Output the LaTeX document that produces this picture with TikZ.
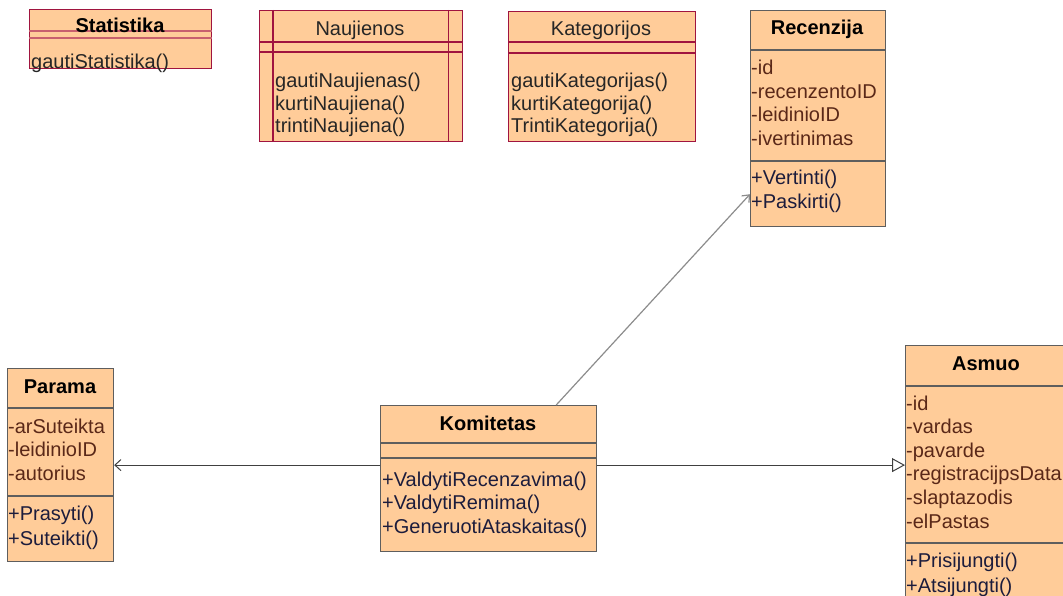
\documentclass[tikz,border=0pt]{standalone}
\usepackage{fontspec}
\setmainfont{Liberation Sans}
\usetikzlibrary{arrows.meta, calc}

\definecolor{umlpeach}{HTML}{FFCC99}
\definecolor{umlred}{HTML}{A0143F}
\definecolor{umlredlt}{HTML}{C8606E}
\definecolor{umlgray}{HTML}{5E5E5E}
\definecolor{attrcol}{HTML}{5A2818}
\definecolor{opcol}{HTML}{1C1C3C}

\begin{document}
\begin{tikzpicture}[x=1pt, y=-1pt,
		font=\fontsize{20}{24}\selectfont,
		redbox/.style={draw=umlred, fill=umlpeach, line width=1.2pt, anchor=north west, inner sep=0pt},
		graybox/.style={draw=umlgray, fill=umlpeach, line width=1.2pt, anchor=north west, inner sep=0pt},
		redsep/.style={draw=umlred, line width=1.2pt},
		graysep/.style={draw=umlgray, line width=1.2pt},
		title/.style={anchor=base, inner sep=0pt, font=\fontsize{20}{24}\selectfont\bfseries},
		plaintitle/.style={anchor=base, inner sep=0pt, text=black!85},
		item/.style={anchor=base west, inner sep=0pt, text=black!85},
		attr/.style={anchor=base west, inner sep=0pt, text=attrcol},
		oper/.style={anchor=base west, inner sep=0pt, text=opcol},
		assoc/.style={draw=black!75, line width=1pt, -{Straight Barb[length=6pt, width=11pt]}},
		depend/.style={draw=black!45, line width=1.2pt, -{Straight Barb[length=6pt, width=10pt]}},
		general/.style={draw=black!75, line width=1pt, -{Triangle[open, length=13pt, width=14pt, fill=white]}}]
	
	\useasboundingbox (0,0) rectangle (1063,596);
	
	% Statistika
	\node[redbox, minimum width=182pt, minimum height=59pt] (stat) at (29,9) {};
	\draw[draw=umlredlt, line width=1.2pt] ($(stat.north west)+(0,22)$) -- ($(stat.north east)+(0,22)$);
	\draw[draw=umlredlt, line width=1.2pt] ($(stat.north west)+(0,29)$) -- ($(stat.north east)+(0,29)$);
	\node[title] (stat-t) at (120,33) {Statistika};
	\node[item] (stat-o1) at (31,69) {gautiStatistika()};
	
	% Naujienos
	\node[redbox, minimum width=203pt, minimum height=131pt] (nau) at (259,10) {};
	\draw[redsep] ($(nau.north west)+(0,32)$) -- ($(nau.north east)+(0,32)$);
	\draw[redsep] ($(nau.north west)+(0,42)$) -- ($(nau.north east)+(0,42)$);
	\draw[redsep] ($(nau.north west)+(14,0)$) -- ($(nau.south west)+(14,0)$);
	\draw[redsep] ($(nau.north east)+(-15,0)$) -- ($(nau.south east)+(-15,0)$);
	\node[plaintitle] (nau-t) at (360,36) {Naujienos};
	\foreach \txt [count=\i] in {gautiNaujienas(), kurtiNaujiena(), trintiNaujiena()}
		\node[item] (nau-o\i) at (275, {88+(\i-1)*22.5}) {\txt};
	
	% Kategorijos
	\node[redbox, minimum width=187pt, minimum height=130pt] (kat) at (508,11) {};
	\draw[redsep] ($(kat.north west)+(0,31)$) -- ($(kat.north east)+(0,31)$);
	\draw[redsep] ($(kat.north west)+(0,42)$) -- ($(kat.north east)+(0,42)$);
	\node[plaintitle] (kat-t) at (601,36) {Kategorijos};
	\foreach \txt [count=\i] in {gautiKategorijas(), kurtiKategorija(), TrintiKategorija()}
		\node[item] (kat-o\i) at (511, {88+(\i-1)*22.5}) {\txt};
	
	% Recenzija
	\node[graybox, minimum width=135pt, minimum height=216pt] (rec) at (750,10) {};
	\draw[graysep] ($(rec.north west)+(0,40)$) -- ($(rec.north east)+(0,40)$);
	\draw[graysep] ($(rec.north west)+(0,151)$) -- ($(rec.north east)+(0,151)$);
	\node[title] (rec-t) at (817,35) {Recenzija};
	\foreach \txt [count=\i] in {-id, -recenzentoID, -leidinioID, -ivertinimas}
		\node[attr] (rec-a\i) at (751, {75+(\i-1)*23.4}) {\txt};
	\foreach \txt [count=\i] in {+Vertinti(), +Paskirti()}
		\node[oper] (rec-o\i) at (751, {185+(\i-1)*24}) {\txt};
	
	% Parama
	\node[graybox, minimum width=106pt, minimum height=193pt] (par) at (7,368) {};
	\draw[graysep] ($(par.north west)+(0,40)$) -- ($(par.north east)+(0,40)$);
	\draw[graysep] ($(par.north west)+(0,128)$) -- ($(par.north east)+(0,128)$);
	\node[title] (par-t) at (60,393) {Parama};
	\foreach \txt [count=\i] in {-arSuteikta, -leidinioID, -autorius}
		\node[attr] (par-a\i) at (8, {433+(\i-1)*23.5}) {\txt};
	\foreach \txt [count=\i] in {+Prasyti(), +Suteikti()}
		\node[oper] (par-o\i) at (8, {520+(\i-1)*25}) {\txt};
	
	% Komitetas
	\node[graybox, minimum width=216pt, minimum height=146pt] (kom) at (380,405) {};
	\draw[graysep] ($(kom.north west)+(0,38)$) -- ($(kom.north east)+(0,38)$);
	\draw[graysep] ($(kom.north west)+(0,53)$) -- ($(kom.north east)+(0,53)$);
	\node[title] (kom-t) at (488,430) {Komitetas};
	\foreach \txt [count=\i] in {+ValdytiRecenzavima(), +ValdytiRemima(), +GeneruotiAtaskaitas()}
		\node[oper] (kom-o\i) at (382, {486+(\i-1)*23.5}) {\txt};
	
	% Asmuo
	\node[graybox, minimum width=165pt, minimum height=265pt] (asm) at (905,345) {};
	\draw[graysep] ($(asm.north west)+(0,41)$) -- ($(asm.north east)+(0,41)$);
	\draw[graysep] ($(asm.north west)+(0,198)$) -- ($(asm.north east)+(0,198)$);
	\node[title] (asm-t) at (986,370) {Asmuo};
	\foreach \txt [count=\i] in {-id, -vardas, -pavarde, -registracijpsData, -slaptazodis, -elPastas}
		\node[attr] (asm-a\i) at (906, {410+(\i-1)*23.6}) {\txt};
	\foreach \txt [count=\i] in {+Prisijungti(), +Atsijungti()}
		\node[oper] (asm-o\i) at (906, {567+(\i-1)*25}) {\txt};
	
	% Connectors
	\draw[assoc] (kom.west |- par.east) -- (par.east);
	\draw[general] (kom.east |- par.east) -- (asm.west |- par.east);
	\draw[depend] ($(kom.north east)+(-41,0)$) -- ($(rec.south west)+(0,-33)$);
	
\end{tikzpicture}
\end{document}
